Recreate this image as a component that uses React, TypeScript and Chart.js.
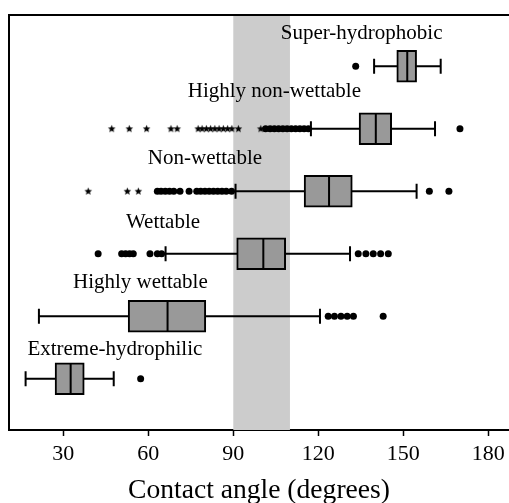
import React, { useEffect, useRef } from "react";
import { Chart, registerables } from "chart.js";

Chart.register(...registerables);

// ---- data ----
const categories = [
  "Super-hydrophobic",
  "Highly non-wettable",
  "Non-wettable",
  "Wettable",
  "Highly wettable",
  "Extreme-hydrophilic",
];
const whiskerLow = [139.7, 117.4, 90.8, 66.1, 21.4, 16.7];
const q1 = [147.7, 134.4, 115.0, 91.2, 52.9, 27.1];
const median = [151.4, 140.3, 123.8, 100.6, 66.8, 32.6];
const q3 = [154.7, 145.9, 132.0, 108.5, 80.3, 37.4];
const whiskerHigh = [163.2, 161.2, 154.7, 131.2, 120.6, 47.8];

const circleOutliers: number[][] = [
  [133.2],
  [101.4, 103, 104.5, 106, 107.5, 109, 110.5, 112, 113.5, 115, 116.5, 170.0],
  [63.2, 64.5, 66, 67.5, 69, 71.2, 74.4, 77.1, 78.5, 80, 81.5, 83, 84.5, 86, 87.5, 89.4, 159.2, 166.1],
  [42.3, 50.6, 52, 53.4, 54.7, 60.6, 63.2, 64.7, 134.1, 136.8, 139.4, 142, 144.7],
  [123.5, 125.7, 128, 130.2, 132.4, 142.9],
  [57.3],
];
const starOutliers: number[][] = [
  [],
  [47.1, 53.3, 59.4, 68.0, 70.2, 77.6, 79, 80.5, 82, 83.5, 85, 86.5, 88, 89.5, 91.8, 99.7],
  [38.8, 52.6, 56.5],
  [],
  [],
  [],
];

const xTicks = [30, 60, 90, 120, 150, 180];
const xMin = 10.84;
const xMax = 187.31;
const bandRange = [90, 110];
const labelCenters = [135.3, 104.5, 80.0, 65.2, 57.2, 48.2];
const labelLift = [0.43, 0.51, 0.44, 0.42, 0.45, 0.38];

const FONT = '"Liberation Serif", "Times New Roman", serif';

function makeStar(): HTMLCanvasElement {
  const c = document.createElement("canvas");
  c.width = 9;
  c.height = 9;
  const g = c.getContext("2d")!;
  g.fillStyle = "#000";
  g.beginPath();
  const cx = 4.5, cy = 4.8, ro = 4.0, ri = 1.8;
  for (let k = 0; k < 10; k++) {
    const r = k % 2 === 0 ? ro : ri;
    const a = -Math.PI / 2 + (k * Math.PI) / 5;
    const px = cx + r * Math.cos(a);
    const py = cy + r * Math.sin(a);
    if (k === 0) g.moveTo(px, py);
    else g.lineTo(px, py);
  }
  g.closePath();
  g.fill();
  return c;
}

export default function App() {
  const ref = useRef<HTMLCanvasElement>(null);

  useEffect(() => {
    if (!ref.current) return;
    const star = makeStar();

    const boxData = categories.map((_, i) => ({ x: [q1[i], q3[i]], y: i }));
    const circleData = circleOutliers.flatMap((arr, i) => arr.map((v) => ({ x: v, y: i })));
    const starData = starOutliers.flatMap((arr, i) => arr.map((v) => ({ x: v, y: i })));

    const extras = {
      id: "boxExtras",
      beforeDatasetsDraw(chart: any) {
        const { ctx, chartArea } = chart;
        const xs = chart.scales.x;
        const ys = chart.scales.y;
        ctx.save();
        const b0 = xs.getPixelForValue(bandRange[0]);
        const b1 = xs.getPixelForValue(bandRange[1]);
        ctx.fillStyle = "#cccccc";
        ctx.fillRect(b0, chartArea.top, b1 - b0, chartArea.bottom - chartArea.top);
        ctx.strokeStyle = "#000";
        ctx.lineWidth = 2;
        categories.forEach((_, i) => {
          const yc = ys.getPixelForValue(i);
          const xl = xs.getPixelForValue(whiskerLow[i]);
          const xh = xs.getPixelForValue(whiskerHigh[i]);
          ctx.beginPath();
          ctx.moveTo(xl, yc);
          ctx.lineTo(xh, yc);
          ctx.moveTo(xl, yc - 7.5);
          ctx.lineTo(xl, yc + 7.5);
          ctx.moveTo(xh, yc - 7.5);
          ctx.lineTo(xh, yc + 7.5);
          ctx.stroke();
        });
        ctx.restore();
      },
      afterDatasetsDraw(chart: any) {
        const { ctx } = chart;
        const xs = chart.scales.x;
        const ys = chart.scales.y;
        ctx.save();
        ctx.strokeStyle = "#000";
        ctx.lineWidth = 2;
        categories.forEach((_, i) => {
          const yc = ys.getPixelForValue(i);
          const xm = xs.getPixelForValue(median[i]);
          ctx.beginPath();
          ctx.moveTo(xm, yc - 15);
          ctx.lineTo(xm, yc + 15);
          ctx.stroke();
        });
        ctx.fillStyle = "#000";
        ctx.font = `21px ${FONT}`;
        ctx.textAlign = "center";
        ctx.textBaseline = "alphabetic";
        categories.forEach((name, i) => {
          ctx.fillText(name, xs.getPixelForValue(labelCenters[i]), ys.getPixelForValue(i - labelLift[i]));
        });
        ctx.restore();
      },
      afterDraw(chart: any) {
        const { ctx, chartArea } = chart;
        ctx.save();
        ctx.strokeStyle = "#000";
        ctx.lineWidth = 2;
        ctx.beginPath();
        ctx.moveTo(chartArea.left, chartArea.bottom);
        ctx.lineTo(chartArea.left, chartArea.top);
        ctx.lineTo(chartArea.right + 2, chartArea.top);
        ctx.stroke();
        ctx.restore();
      },
    };

    const chart = new Chart(ref.current, {
      type: "bar",
      data: {
        datasets: [
          {
            type: "scatter",
            data: circleData,
            indexAxis: "x",
            pointStyle: "circle",
            pointRadius: 3.5,
            pointBackgroundColor: "#000",
            pointBorderWidth: 0,
            showLine: false,
          } as any,
          {
            type: "scatter",
            data: starData,
            indexAxis: "x",
            pointStyle: star,
            pointRadius: 4,
            showLine: false,
          } as any,
          {
            type: "bar",
            data: boxData as any,
            backgroundColor: "#999999",
            borderColor: "#000",
            borderWidth: 2,
            borderSkipped: false,
            barThickness: 32,
            grouped: false,
          } as any,
        ],
      },
      options: {
        indexAxis: "y",
        responsive: true,
        maintainAspectRatio: false,
        animation: false,
        layout: { autoPadding: false, padding: { left: 9, top: 15, right: 0, bottom: 0 } },
        plugins: {
          legend: { display: false },
          tooltip: { enabled: false },
        },
        scales: {
          x: {
            type: "linear",
            min: xMin,
            max: xMax,
            offset: false,
            afterBuildTicks: (s: any) => {
              s.ticks = xTicks.map((v) => ({ value: v }));
            },
            afterFit: (s: any) => {
              s.height = 73;
              s.paddingLeft = 0;
              s.paddingRight = 0;
            },
            grid: {
              display: true,
              drawOnChartArea: false,
              drawTicks: true,
              tickLength: 6,
              tickColor: "#000",
              tickWidth: 1.5,
              offset: false,
            },
            border: { display: true, color: "#000", width: 2 },
            ticks: {
              font: { family: FONT, size: 22 },
              color: "#000",
              padding: 5,
              maxRotation: 0,
              autoSkip: false,
            },
            title: {
              display: true,
              text: "Contact angle (degrees)",
              font: { family: FONT, size: 27.6, lineHeight: 1 },
              color: "#000",
              padding: { top: 0, bottom: -1.5 },
            },
          },
          y: {
            type: "linear",
            reverse: true,
            min: -0.82,
            max: 5.82,
            offset: false,
            display: false,
          },
        },
      } as any,
      plugins: [extras],
    });

    return () => chart.destroy();
  }, []);

  return (
    <div style={{ position: "fixed", left: 0, top: 0, width: 509, height: 503, background: "#fff" }}>
      <canvas ref={ref} />
    </div>
  );
}
